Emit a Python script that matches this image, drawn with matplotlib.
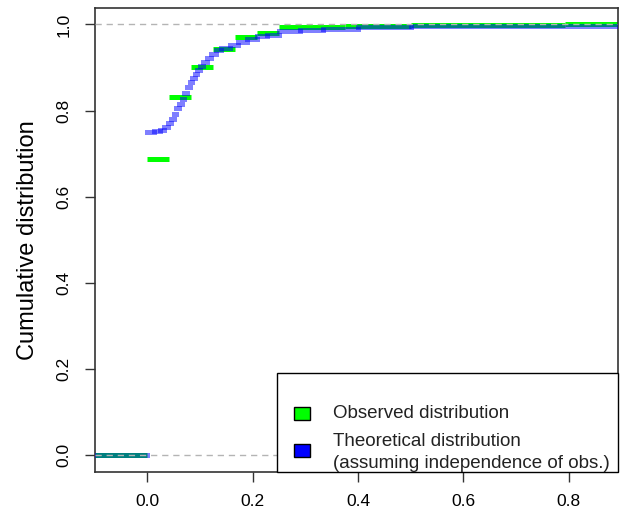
import matplotlib
matplotlib.use("Agg")
import matplotlib.pyplot as plt
from matplotlib.patches import Rectangle

plt.rcParams["font.family"] = ["Liberation Sans", "DejaVu Sans"]

# observed ECDF: step edges and level on each step
obs_x = [-0.1, 0.0, 0.042, 0.083, 0.125, 0.167, 0.208, 0.25, 0.375, 0.5, 0.792, 0.9]
obs_y = [0.0, 0.687, 0.832, 0.902, 0.944, 0.971, 0.980, 0.993, 0.996, 0.998, 1.0]

# theoretical distribution (independence of obs.)
theo_x = [-0.1, 0.0, 0.012, 0.024, 0.032, 0.04, 0.045, 0.05, 0.055, 0.06,
          0.065, 0.07, 0.075, 0.08, 0.085, 0.09, 0.095, 0.1, 0.106, 0.113,
          0.12, 0.13, 0.14, 0.157, 0.173, 0.189, 0.208, 0.227, 0.25, 0.29,
          0.334, 0.4, 0.5, 0.9]
theo_y = [0.0, 0.751, 0.753, 0.756, 0.762, 0.770, 0.780, 0.792, 0.805, 0.815,
          0.826, 0.840, 0.855, 0.866, 0.876, 0.885, 0.894, 0.903, 0.912, 0.921,
          0.932, 0.940, 0.946, 0.952, 0.960, 0.967, 0.973, 0.976, 0.985, 0.988,
          0.990, 0.993, 0.996]

x_ticks = [0.0, 0.2, 0.4, 0.6, 0.8]
y_ticks = [0.0, 0.2, 0.4, 0.6, 0.8, 1.0]
legend_labels = ["Observed distribution",
                 "Theoretical distribution",
                 "(assuming independence of obs.)"]

W, H = 624, 517
fig = plt.figure(figsize=(W / 100, H / 100), dpi=100)
L, R, T, B = 94.7, 617.7, 8, 472
ax = fig.add_axes([L / W, 1 - B / H, (R - L) / W, (B - T) / H])

green = "#00ff00"
blue = "#0000ff"

g = ax.hlines(obs_y, obs_x[:-1], obs_x[1:], colors=green, linewidth=3.6, zorder=2)
g.set_capstyle("butt")
b = ax.hlines(theo_y, theo_x[:-1], theo_x[1:], colors=blue, linewidth=3.6,
              alpha=0.5, zorder=3)
b.set_capstyle("projecting")

for yv in (0.0, 1.0):
    ax.axhline(yv, color="#b4b4b4", linewidth=1.0, linestyle=(0, (4.5, 3.5)), zorder=4)

ax.set_xlim(-0.1, 0.893)
ax.set_ylim(-0.0387, 1.038)
ax.set_xticks(x_ticks)
ax.set_xticklabels([f"{v:.1f}" for v in x_ticks])
ax.set_yticks(y_ticks)
ax.set_yticklabels([f"{v:.1f}" for v in y_ticks], rotation=90, va="center")
ax.tick_params(axis="both", length=7.5, width=1.0, color="#333333", labelsize=12.5)
ax.tick_params(axis="x", pad=8)
ax.tick_params(axis="y", pad=9)
for s in ax.spines.values():
    s.set_color("#333333")
    s.set_linewidth(1.2)

ax.set_ylabel("Cumulative distribution", fontsize=17)
ax.yaxis.set_label_coords(-0.106, 0.5)


# legend box drawn in pixel positions of the frame
def ax_pt(px, py):
    return (px - L) / (R - L), (B - py) / (B - T)


x0, y0 = ax_pt(277, 472)
x1, y1 = ax_pt(617.7, 373)
ax.add_patch(Rectangle((x0, y0), x1 - x0, y1 - y0, transform=ax.transAxes,
                       facecolor="white", edgecolor="black", linewidth=1.0,
                       zorder=6, clip_on=False))
for col, cy in ((green, 413), (blue, 450)):
    kx, ky = ax_pt(294, cy + 6.5)
    kx2, ky2 = ax_pt(310, cy - 6.5)
    ax.add_patch(Rectangle((kx, ky), kx2 - kx, ky2 - ky, transform=ax.transAxes,
                           facecolor=col, edgecolor="black", linewidth=1.0, zorder=7))
for label, cy in zip(legend_labels, (413.5, 441, 463)):
    tx, ty = ax_pt(333, cy)
    ax.text(tx, ty, label, transform=ax.transAxes, fontsize=13.5,
            va="center", ha="left", color="#222222", zorder=8)

fig.savefig("out.png", dpi=100)
